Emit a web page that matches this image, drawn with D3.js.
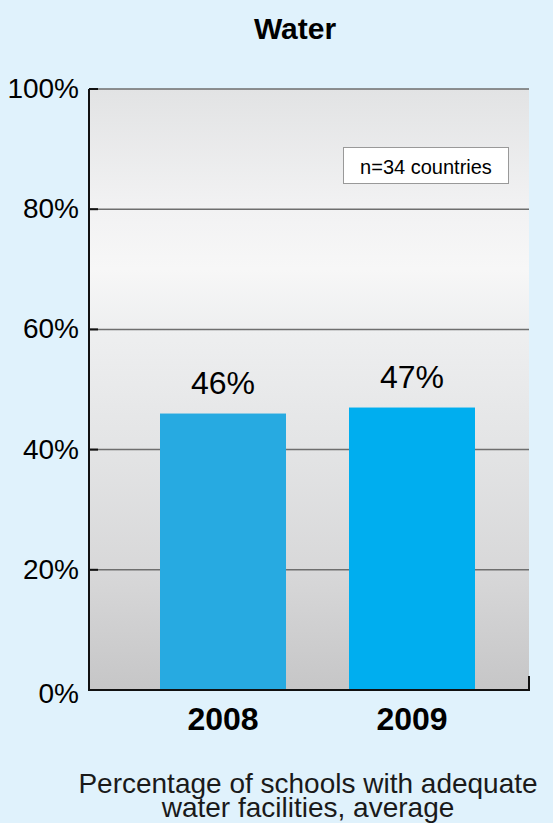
<!DOCTYPE html>
<html>
<head>
<meta charset="utf-8">
<script src="https://cdn.jsdelivr.net/npm/d3@7"></script>
<style>
  body { margin: 0; background: #e0f2fc; }
  svg { display: block; font-family: "Liberation Sans", Arial, sans-serif; }
</style>
</head>
<body>
<script>
// chart data
var years = ["2008", "2009"];
var values = [46, 47];
var barColors = ["#27aae1", "#00aeef"];
var yTicks = [0, 20, 40, 60, 80, 100];
var titleText = "Water";
var noteText = "n=34 countries";
var captionLines = ["Percentage of schools with adequate", "water facilities, average"];

var svgWidth = 553;
var svgHeight = 823;

// plot area edges
var plotLeft = 89;
var plotRight = 529;
var plotTop = 89;
var plotBottom = 690;

var svg = d3.select("body")
  .append("svg")
  .attr("width", svgWidth)
  .attr("height", svgHeight);

// background gradient of the plot area
var defs = svg.append("defs");
var grad = defs.append("linearGradient")
  .attr("id", "plotBg")
  .attr("x1", 0).attr("y1", 0)
  .attr("x2", 0).attr("y2", 1);
[[0, "#e2e3e4"], [0.2, "#f2f2f3"], [0.3, "#f7f7f7"], [0.4, "#eeeff0"],
 [0.6, "#e3e4e5"], [0.8, "#d8d8d9"], [1, "#c6c6c7"]].forEach(function(s) {
  grad.append("stop").attr("offset", s[0]).attr("stop-color", s[1]);
});

var yScale = d3.scaleLinear()
  .domain([0, 100])
  .range([plotBottom, plotTop]);

var xScale = d3.scaleBand()
  .domain(years)
  .range([97, 538])
  .paddingInner(1 / 3)
  .paddingOuter(1 / 3);

svg.append("rect")
  .attr("x", plotLeft)
  .attr("y", plotTop)
  .attr("width", plotRight - plotLeft)
  .attr("height", plotBottom - plotTop)
  .attr("fill", "url(#plotBg)");

// title
svg.append("text")
  .attr("x", 295)
  .attr("y", 39)
  .attr("text-anchor", "middle")
  .attr("font-size", 30)
  .attr("font-weight", "bold")
  .attr("fill", "#000")
  .text(titleText);

// gridlines
var gridTicks = yTicks.filter(function(d) { return d > 0; });
svg.selectAll(".grid")
  .data(gridTicks)
  .enter()
  .append("line")
  .attr("x1", plotLeft)
  .attr("x2", plotRight)
  .attr("y1", function(d) { return yScale(d); })
  .attr("y2", function(d) { return yScale(d); })
  .attr("stroke", "#6e6e6e")
  .attr("stroke-width", 1.5);

// short dark ticks at the axis
svg.selectAll(".tick")
  .data(gridTicks)
  .enter()
  .append("line")
  .attr("x1", plotLeft)
  .attr("x2", plotLeft + 9)
  .attr("y1", function(d) { return yScale(d); })
  .attr("y2", function(d) { return yScale(d); })
  .attr("stroke", "#111")
  .attr("stroke-width", 2);

// bars
svg.selectAll(".bar")
  .data(values)
  .enter()
  .append("rect")
  .attr("x", function(d, i) { return xScale(years[i]); })
  .attr("y", function(d) { return yScale(d); })
  .attr("width", xScale.bandwidth())
  .attr("height", function(d) { return yScale(0) - yScale(d); })
  .attr("fill", function(d, i) { return barColors[i]; });

// value labels
svg.selectAll(".val")
  .data(values)
  .enter()
  .append("text")
  .attr("x", function(d, i) { return xScale(years[i]) + xScale.bandwidth() / 2; })
  .attr("y", function(d) { return yScale(d) - 20; })
  .attr("text-anchor", "middle")
  .attr("font-size", 32)
  .attr("fill", "#000")
  .text(function(d) { return d + "%"; });

// axes lines
svg.append("line")
  .attr("x1", plotLeft).attr("x2", plotLeft)
  .attr("y1", plotTop).attr("y2", plotBottom + 1)
  .attr("stroke", "#111").attr("stroke-width", 2);
svg.append("line")
  .attr("x1", plotLeft - 1).attr("x2", plotRight + 1)
  .attr("y1", plotBottom).attr("y2", plotBottom)
  .attr("stroke", "#111").attr("stroke-width", 2);
svg.append("line")
  .attr("x1", plotRight).attr("x2", plotRight)
  .attr("y1", plotBottom - 14).attr("y2", plotBottom + 1)
  .attr("stroke", "#111").attr("stroke-width", 2);

// y tick labels
svg.selectAll(".ylab")
  .data(yTicks)
  .enter()
  .append("text")
  .attr("x", 79)
  .attr("y", function(d) { return yScale(d) + (d === 0 ? 13 : 9); })
  .attr("text-anchor", "end")
  .attr("font-size", 28)
  .attr("fill", "#000")
  .text(function(d) { return d + "%"; });

// x labels
svg.selectAll(".xlab")
  .data(years)
  .enter()
  .append("text")
  .attr("x", function(d) { return xScale(d) + xScale.bandwidth() / 2; })
  .attr("y", 730)
  .attr("text-anchor", "middle")
  .attr("font-size", 32)
  .attr("font-weight", "bold")
  .attr("fill", "#000")
  .text(function(d) { return d; });

// note box
svg.append("rect")
  .attr("x", 343.5)
  .attr("y", 147.5)
  .attr("width", 165)
  .attr("height", 36)
  .attr("fill", "#fff")
  .attr("stroke", "#999")
  .attr("stroke-width", 1);
svg.append("text")
  .attr("x", 426)
  .attr("y", 174)
  .attr("text-anchor", "middle")
  .attr("font-size", 20)
  .attr("fill", "#000")
  .text(noteText);

// caption
svg.selectAll(".cap")
  .data(captionLines)
  .enter()
  .append("text")
  .attr("x", 308)
  .attr("y", function(d, i) { return 793 + i * 24; })
  .attr("text-anchor", "middle")
  .attr("font-size", 28)
  .attr("fill", "#1a1a1a")
  .text(function(d) { return d; });
</script>
</body>
</html>
